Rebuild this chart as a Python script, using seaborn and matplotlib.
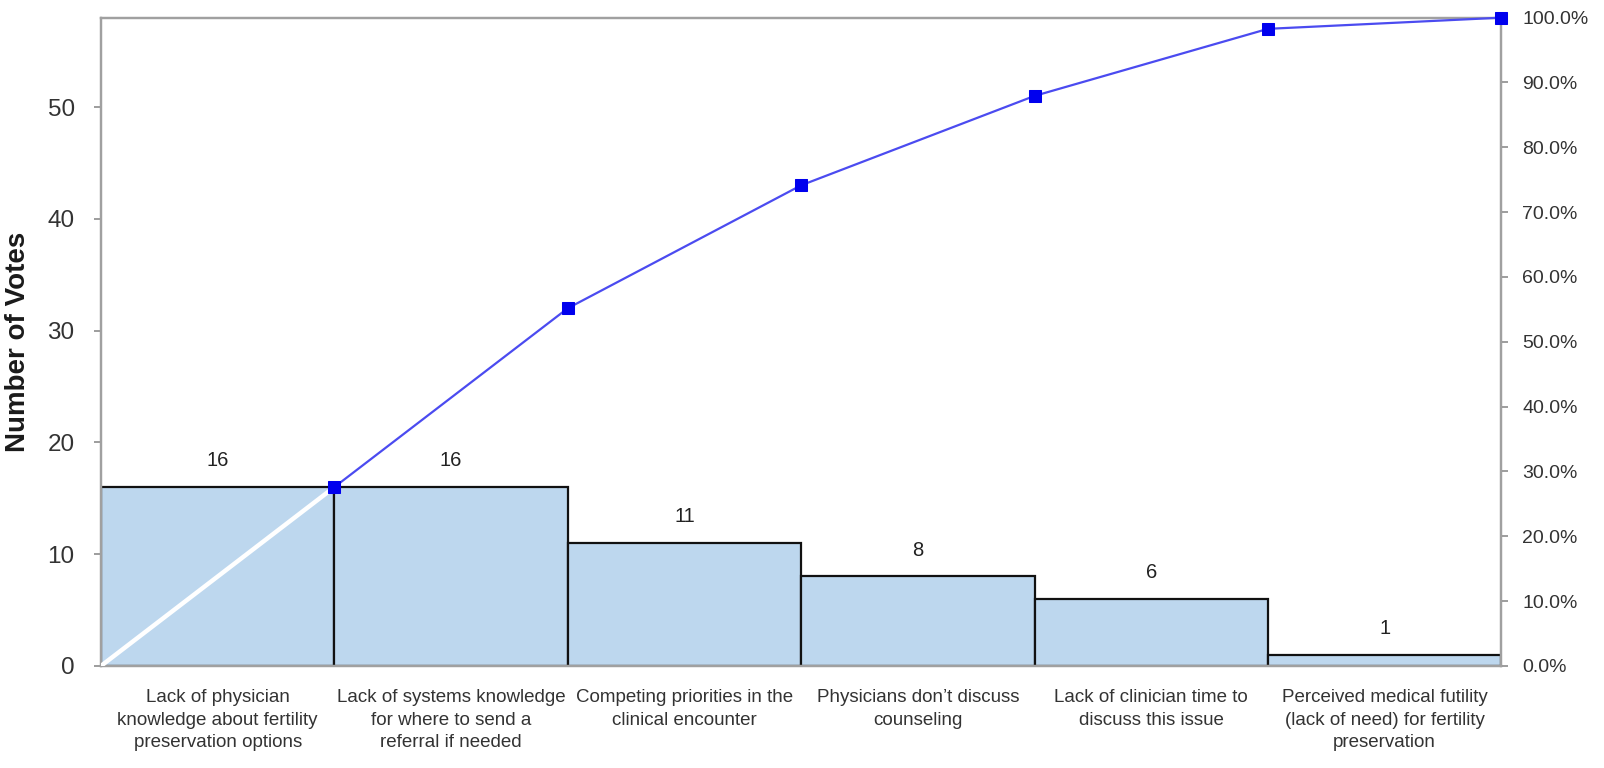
import numpy as np
import matplotlib
matplotlib.use("Agg")
import matplotlib.pyplot as plt
import seaborn as sns
from matplotlib.ticker import FuncFormatter, MultipleLocator

# Barriers to fertility preservation counseling, ranked by votes
categories = [
    "Lack of physician\nknowledge about fertility\npreservation options",
    "Lack of systems knowledge\nfor where to send a\nreferral if needed",
    "Competing priorities in the\nclinical encounter",
    "Physicians don\u2019t discuss\ncounseling",
    "Lack of clinician time to\ndiscuss this issue",
    "Perceived medical futility\n(lack of need) for fertility\npreservation",
]
votes = [16, 16, 11, 8, 6, 1]

total = sum(votes)
cum_share = np.cumsum(votes) / total          # cumulative fraction of all votes
edges = np.arange(len(votes)) + 0.5           # right edge of each bar

sns.set_theme(style="white")
plt.rcParams["font.family"] = ["Liberation Sans", "DejaVu Sans"]

fig = plt.figure(figsize=(16.04, 7.68), dpi=100)
ax = fig.add_axes([0.063, 0.133, 0.873, 0.844])

sns.barplot(x=categories, y=votes, ax=ax, width=1.0, color="#BDD7EE",
            saturation=1, edgecolor="#111111", linewidth=1.6, zorder=2)

for i, v in enumerate(votes):
    ax.annotate(str(v), (i, v), xytext=(0, 12), textcoords="offset points",
                ha="center", va="bottom", fontsize=14.5, color="#222222")

ax.set_xlim(-0.5, len(votes) - 0.5)
ax.set_ylim(0, total)
ax.yaxis.set_major_locator(MultipleLocator(10))
ax.set_ylabel("Number of Votes", fontsize=20, fontweight="bold", color="#1a1a1a", labelpad=12)
ax.set_xlabel("")
ax.tick_params(axis="y", which="major", left=True, length=5, width=1.2, color="#8c8c8c",
               labelsize=17.5, labelcolor="#333333", pad=14)
ax.tick_params(axis="x", bottom=False, labelsize=13.5, labelcolor="#333333", pad=11)
for lab in ax.get_xticklabels():
    lab.set_linespacing(1.4)
for s in ax.spines.values():
    s.set_color("#a0a0a0")
    s.set_linewidth(1.6)

# Cumulative percentage on the secondary axis
ax2 = ax.twinx()
ax2.plot([-0.5, edges[0]], [0, cum_share[0]], color="white", lw=3.2, zorder=3,
         solid_capstyle="butt")
sns.lineplot(x=edges, y=cum_share, ax=ax2, color="#4B4BF0", lw=1.6, marker="s",
             markersize=9, markerfacecolor="#0000EE", markeredgecolor="#0000EE",
             zorder=4, clip_on=False)
ax2.set_ylim(0, 1.0)
ax2.yaxis.set_major_locator(MultipleLocator(0.1))
ax2.yaxis.set_major_formatter(FuncFormatter(lambda y, _: f"{y * 100:.1f}%"))
ax2.tick_params(axis="y", right=True, length=5, width=1.2, color="#8c8c8c",
                labelsize=14, labelcolor="#333333", pad=10)
ax2.set_ylabel("")
for s in ax2.spines.values():
    s.set_color("#a0a0a0")
    s.set_linewidth(1.6)

fig.savefig("out.png", dpi=100)
